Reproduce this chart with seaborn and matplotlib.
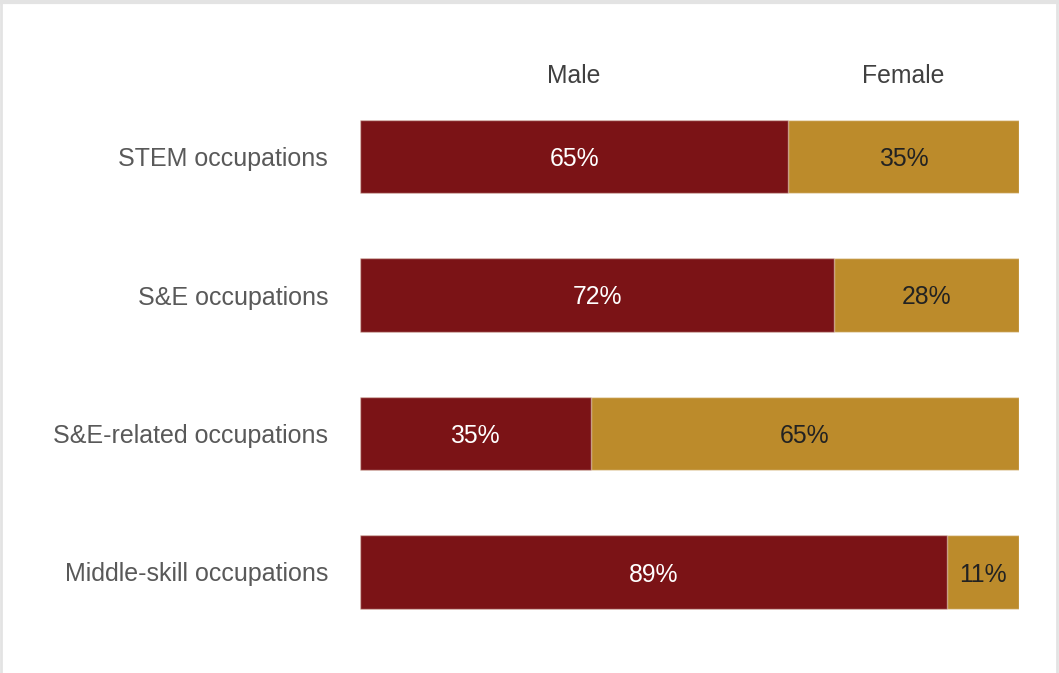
import matplotlib
matplotlib.use("Agg")
import matplotlib.pyplot as plt
import seaborn as sns
import pandas as pd
from matplotlib.lines import Line2D

categories = ["STEM occupations", "S&E occupations", "S&E-related occupations", "Middle-skill occupations"]
male = [65, 72, 35, 89]
female = [35, 28, 65, 11]
series_names = ["Male", "Female"]

MALE_C = "#7B1316"
FEMALE_C = "#BC8B2B"

sns.set_theme(style="white")
plt.rcParams["font.family"] = ["Liberation Sans", "DejaVu Sans"]

df = pd.DataFrame({"category": categories, "male": male, "female": female})
df["total"] = df["male"] + df["female"]

fig = plt.figure(figsize=(10.59, 6.73), dpi=100)
fig.patch.set_facecolor("white")
ax = fig.add_axes([360 / 1059, 1 - 641.25 / 673, 659 / 1059, 554 / 673])

edge = (1, 1, 1, 0.45)
sns.barplot(data=df, y="category", x="total", color=FEMALE_C, saturation=1,
            width=0.53, edgecolor=edge, linewidth=1, ax=ax, orient="h")
sns.barplot(data=df, y="category", x="male", color=MALE_C, saturation=1,
            width=0.53, edgecolor=edge, linewidth=1, ax=ax, orient="h")

ax.set_xlim(0, 100)
ax.set_ylim(len(categories) - 0.5, -0.5)
ax.set_xlabel("")
ax.set_ylabel("")
ax.set_xticks([])
ax.tick_params(axis="y", length=0, pad=23, labelsize=18, labelcolor="#595959")
for lbl in ax.get_yticklabels():
    lbl.set_va("center_baseline")
for s in ax.spines.values():
    s.set_visible(False)

for i, (m, f) in enumerate(zip(male, female)):
    ax.text(m / 2, i, f"{m}%", ha="center", va="center_baseline", color="white", fontsize=17.8)
    ax.text(m + f / 2, i, f"{f}%", ha="center", va="center_baseline", color="#222222", fontsize=17.8)

# series headers centered over first bar's segments
ax.text(male[0] / 2, -0.6, series_names[0], ha="center", va="center_baseline",
        color="#404040", fontsize=17.8, clip_on=False)
ax.text(male[0] + female[0] / 2, -0.6, series_names[1], ha="center", va="center_baseline",
        color="#404040", fontsize=17.8, clip_on=False)

# light frame around the figure (top, left, right)
fc = "#e3e3e3"
fig.add_artist(Line2D([0, 1], [1 - 1.5 / 673, 1 - 1.5 / 673], transform=fig.transFigure, color=fc, lw=3))
fig.add_artist(Line2D([1 / 1059, 1 / 1059], [0, 1], transform=fig.transFigure, color=fc, lw=2))
fig.add_artist(Line2D([1 - 2.5 / 1059, 1 - 2.5 / 1059], [0, 1], transform=fig.transFigure, color=fc, lw=2))

fig.savefig("out.png", dpi=100, facecolor="white")
